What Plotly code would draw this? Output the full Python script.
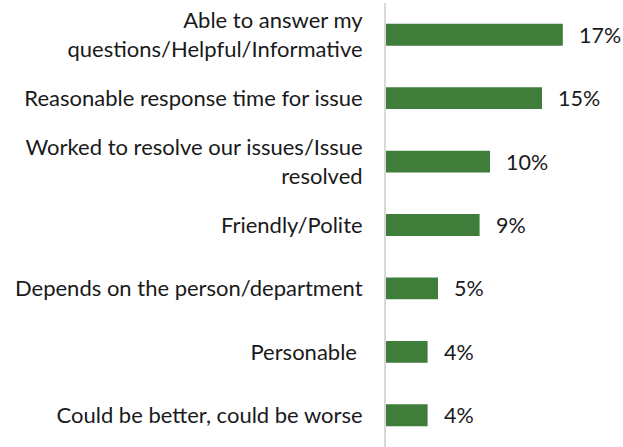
import plotly.graph_objects as go

# Response categories (top to bottom) and share of mentions in percent
categories = [
    "Able to answer my<br>questions/Helpful/Informative",
    "Reasonable response time for issue",
    "Worked to resolve our issues/Issue<br>resolved",
    "Friendly/Polite",
    "Depends on the person/department",
    "Personable ",
    "Could be better, could be worse",
]
values = [17, 15, 10, 9, 5, 4, 4]

bar_color = "#3F7D3A"
text_color = "#1a1a1a"
font_family = "Lato, Carlito, Calibri, sans-serif"

fig = go.Figure(
    go.Bar(
        x=values,
        y=categories,
        orientation="h",
        marker=dict(color=bar_color, line=dict(width=0)),
        hoverinfo="skip",
    )
)

# Value labels placed just to the right of each bar
for cat, v in zip(categories, values):
    fig.add_annotation(
        x=v, y=cat, text=f"{v}%", showarrow=False,
        xanchor="left", xshift=14,
        font=dict(size=21.5, color=text_color, family=font_family),
    )

fig.update_layout(
    width=623, height=447,
    margin=dict(l=386, r=0, t=3, b=0),
    paper_bgcolor="white", plot_bgcolor="white",
    bargap=0.655,
    showlegend=False,
    font=dict(family=font_family, size=22, color=text_color),
)
fig.update_xaxes(
    range=[0, 237 / 10.4], visible=False, showgrid=False, zeroline=False,
)
fig.update_yaxes(
    autorange="reversed", showgrid=False, zeroline=False,
    showline=True, linecolor="#d9d9d9", linewidth=2,
    ticks="", ticklabelstandoff=17,
    tickfont=dict(size=22, color=text_color, family=font_family),
)

fig.write_html("out.html")
